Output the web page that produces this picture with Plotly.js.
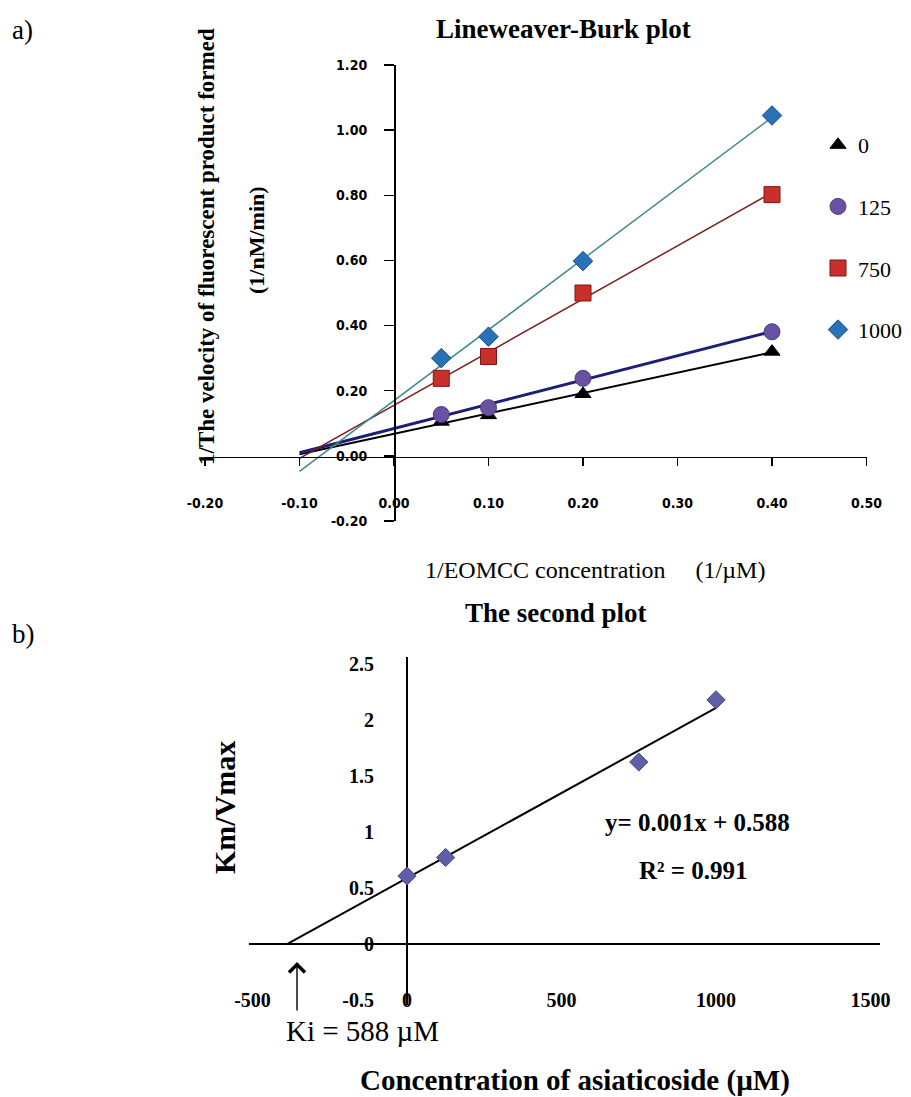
<!DOCTYPE html>
<html>
<head>
<meta charset="utf-8">
<script src="https://cdn.plot.ly/plotly-3.0.1.min.js"></script>
<style>
  html, body { margin: 0; padding: 0; background: #ffffff; }
  #chart { width: 911px; height: 1097px; }
</style>
</head>
<body>
<div id="chart"></div>
<script>
// ---- a) Lineweaver-Burk data: 1/[EOMCC] vs 1/velocity, one series per inhibitor level ----
const invSubstrate = [0.05, 0.10, 0.20, 0.40];
const seriesNames = ['0', '125', '750', '1000'];
const invVel0 = [0.105, 0.125, 0.19, 0.32];
const invVel125 = [0.127, 0.148, 0.238, 0.381];
const invVel750 = [0.238, 0.305, 0.50, 0.802];
const invVel1000 = [0.30, 0.366, 0.598, 1.045];
const trendStartX = -0.10;   // lines are extended back to this 1/[S]

const lbXTickVals = [-0.2, -0.1, 0, 0.1, 0.2, 0.3, 0.4, 0.5];
const lbXTickText = ['-0.20', '-0.10', '0.00', '0.10', '0.20', '0.30', '0.40', '0.50'];
const lbYTickVals = [-0.2, 0, 0.2, 0.4, 0.6, 0.8, 1.0, 1.2];
const lbYTickText = ['-0.20', '0.00', '0.20', '0.40', '0.60', '0.80', '1.00', '1.20'];

// ---- b) secondary plot: Km/Vmax vs asiaticoside concentration ----
const asiaticoside = [0, 125, 750, 1000];
const kmOverVmax = [0.607, 0.772, 1.625, 2.18];
const fitSlope = 0.00152;
const fitIntercept = 0.588;
const fitEndX = 1000;

const spXTickVals = [-500, 0, 500, 1000, 1500];
const spXTickText = ['-500', '0', '500', '1000', '1500'];
const spYTickVals = [-0.5, 0, 0.5, 1, 1.5, 2, 2.5];
const spYTickText = ['-0.5', '0', '0.5', '1', '1.5', '2', '2.5'];

// least-squares straight line through one series
function linearFit(xs, ys) {
  const n = xs.length;
  const mx = xs.reduce((a, b) => a + b, 0) / n;
  const my = ys.reduce((a, b) => a + b, 0) / n;
  let sxx = 0, sxy = 0;
  for (let i = 0; i < n; i++) {
    sxx += (xs[i] - mx) * (xs[i] - mx);
    sxy += (xs[i] - mx) * (ys[i] - my);
  }
  const slope = sxy / sxx;
  return { slope: slope, intercept: my - slope * mx };
}

const SERIF = 'Liberation Serif, Times New Roman, serif';
const NARROW = 'Liberation Sans Narrow, DejaVu Sans Condensed, Arial Narrow, sans-serif';

const lbSeries = [
  { name: seriesNames[0], y: invVel0, symbol: 'triangle-up', size: 14, fill: '#000000', edge: '#000000', line: '#000000', lw: 2 },
  { name: seriesNames[1], y: invVel125, symbol: 'circle', size: 16, fill: '#6A52A2', edge: '#4A3A80', line: '#1E1E78', lw: 3 },
  { name: seriesNames[2], y: invVel750, symbol: 'square', size: 16, fill: '#C9302C', edge: '#7F1414', line: '#7B1E1E', lw: 1.5 },
  { name: seriesNames[3], y: invVel1000, symbol: 'diamond', size: 15, fill: '#2A72B8', edge: '#1A4F85', line: '#3E8A8A', lw: 1.5 }
];

const traces = [];
// regression lines first so the markers sit on top
lbSeries.forEach(s => {
  const f = linearFit(invSubstrate, s.y);
  const xEnd = invSubstrate[invSubstrate.length - 1];
  const xs = [trendStartX, xEnd];
  traces.push({
    x: xs, y: xs.map(v => f.intercept + f.slope * v),
    mode: 'lines', line: { color: s.line, width: s.lw },
    xaxis: 'x', yaxis: 'y', showlegend: false, hoverinfo: 'skip'
  });
});
lbSeries.forEach(s => {
  traces.push({
    x: invSubstrate, y: s.y, name: s.name, legendgroup: 'g' + s.name,
    mode: 'markers',
    marker: { symbol: s.symbol, size: s.size, color: s.fill, line: { color: s.edge, width: 1 } },
    xaxis: 'x', yaxis: 'y'
  });
});

// secondary plot: fitted line and points
const fitX = [-fitIntercept / fitSlope, fitEndX];
traces.push({
  x: fitX, y: fitX.map(v => fitIntercept + fitSlope * v),
  mode: 'lines', line: { color: '#000000', width: 2 },
  xaxis: 'x2', yaxis: 'y2', showlegend: false, hoverinfo: 'skip'
});
traces.push({
  x: asiaticoside, y: kmOverVmax, mode: 'markers',
  marker: { symbol: 'diamond', size: 14, color: '#5E5FA8', line: { color: '#44468A', width: 1 } },
  xaxis: 'x2', yaxis: 'y2', showlegend: false
});

const W = 911, H = 1097;
const px = v => v / W;
const py = v => 1 - v / H;

function label(text, x, y, size, opts) {
  const o = opts || {};
  return {
    text: text, x: px(x), y: py(y), xref: 'paper', yref: 'paper',
    xanchor: o.xanchor || 'center', yanchor: 'middle', showarrow: false,
    textangle: o.angle || 0,
    font: { family: SERIF, size: size, weight: o.bold ? 'bold' : 'normal', color: '#000000' }
  };
}

const layout = {
  width: W, height: H,
  margin: { l: 0, r: 0, t: 0, b: 0 },
  paper_bgcolor: '#ffffff', plot_bgcolor: 'rgba(0,0,0,0)',
  font: { family: SERIF, color: '#000000' },
  showlegend: true,
  legend: {
    x: px(818), y: py(124), xanchor: 'left', yanchor: 'top',
    traceorder: 'grouped', tracegroupgap: 30,
    font: { family: SERIF, size: 22, color: '#000000' },
    bgcolor: 'rgba(0,0,0,0)', itemclick: false
  },
  xaxis: {
    domain: [px(205), px(866.5)], range: [-0.2, 0.5],
    anchor: 'free', position: py(456.5),
    showgrid: false, zeroline: false,
    showline: true, linecolor: '#000000', linewidth: 1.5,
    ticks: 'outside', ticklen: 8, tickcolor: '#000000', tickwidth: 1.5,
    tickvals: lbXTickVals, ticktext: lbXTickText,
    ticklabelstandoff: 25,
    tickfont: { family: NARROW, size: 14, weight: 'bold', color: '#000000' }
  },
  yaxis: {
    domain: [py(521), py(65)], range: [-0.2, 1.2],
    anchor: 'free', position: px(394),
    showgrid: false, zeroline: false,
    showline: true, linecolor: '#000000', linewidth: 1.5,
    ticks: 'outside', ticklen: 10, tickcolor: '#000000', tickwidth: 1.5,
    tickvals: lbYTickVals, ticktext: lbYTickText,
    ticklabelstandoff: 14,
    tickfont: { family: NARROW, size: 14, weight: 'bold', color: '#000000' }
  },
  xaxis2: {
    domain: [px(249.4), px(879.8)], range: [-510, 1530],
    anchor: 'y2',
    showgrid: false, showline: false, ticks: '',
    zeroline: true, zerolinecolor: '#000000', zerolinewidth: 1.5,
    tickvals: spXTickVals, ticktext: spXTickText,
    ticklabelstandoff: -19,
    tickfont: { family: SERIF, size: 20, weight: 'bold', color: '#000000' }
  },
  yaxis2: {
    domain: [py(1005), py(657.3)], range: [-0.545, 2.56],
    anchor: 'free', position: px(407),
    showgrid: false, showline: false, ticks: '',
    zeroline: true, zerolinecolor: '#000000', zerolinewidth: 1.5,
    tickvals: spYTickVals, ticktext: spYTickText,
    ticklabelstandoff: 33,
    tickfont: { family: SERIF, size: 20, weight: 'bold', color: '#000000' }
  },
  annotations: [
    label('a)', 10, 30, 27, { xanchor: 'left' }),
    label('b)', 10, 634, 27, { xanchor: 'left' }),
    label('Lineweaver-Burk plot', 563, 29, 27, { bold: true }),
    label('1/The velocity of fluorescent product formed', 207, 247, 23, { bold: true, angle: -90 }),
    label('(1/nM/min)', 257, 240, 22, { bold: true, angle: -90 }),
    label('1/EOMCC concentration\u00a0\u00a0\u00a0\u00a0\u00a0(1/\u00b5M)', 595, 570, 24),
    label('The second plot', 556, 613, 27, { bold: true }),
    label('Km/Vmax', 224, 808, 30, { bold: true, angle: -90 }),
    label('y= 0.001x + 0.588', 697, 822, 25, { bold: true }),
    label('R\u00b2 = 0.991', 693, 870, 25, { bold: true }),
    label('Concentration of asiaticoside (\u00b5M)', 575, 1080, 29, { bold: true }),
    label('Ki = 588 \u00b5M', 284, 1031, 29, { xanchor: 'left' }),
    { text: '', x: px(297), y: py(962), xref: 'paper', yref: 'paper', showarrow: true,
      ax: 0, ay: 50, arrowhead: 4, arrowsize: 2.2, arrowwidth: 1.4, arrowcolor: '#000000' }
  ]
};

Plotly.newPlot('chart', traces, layout, { staticPlot: true, displayModeBar: false });
</script>
</body>
</html>
